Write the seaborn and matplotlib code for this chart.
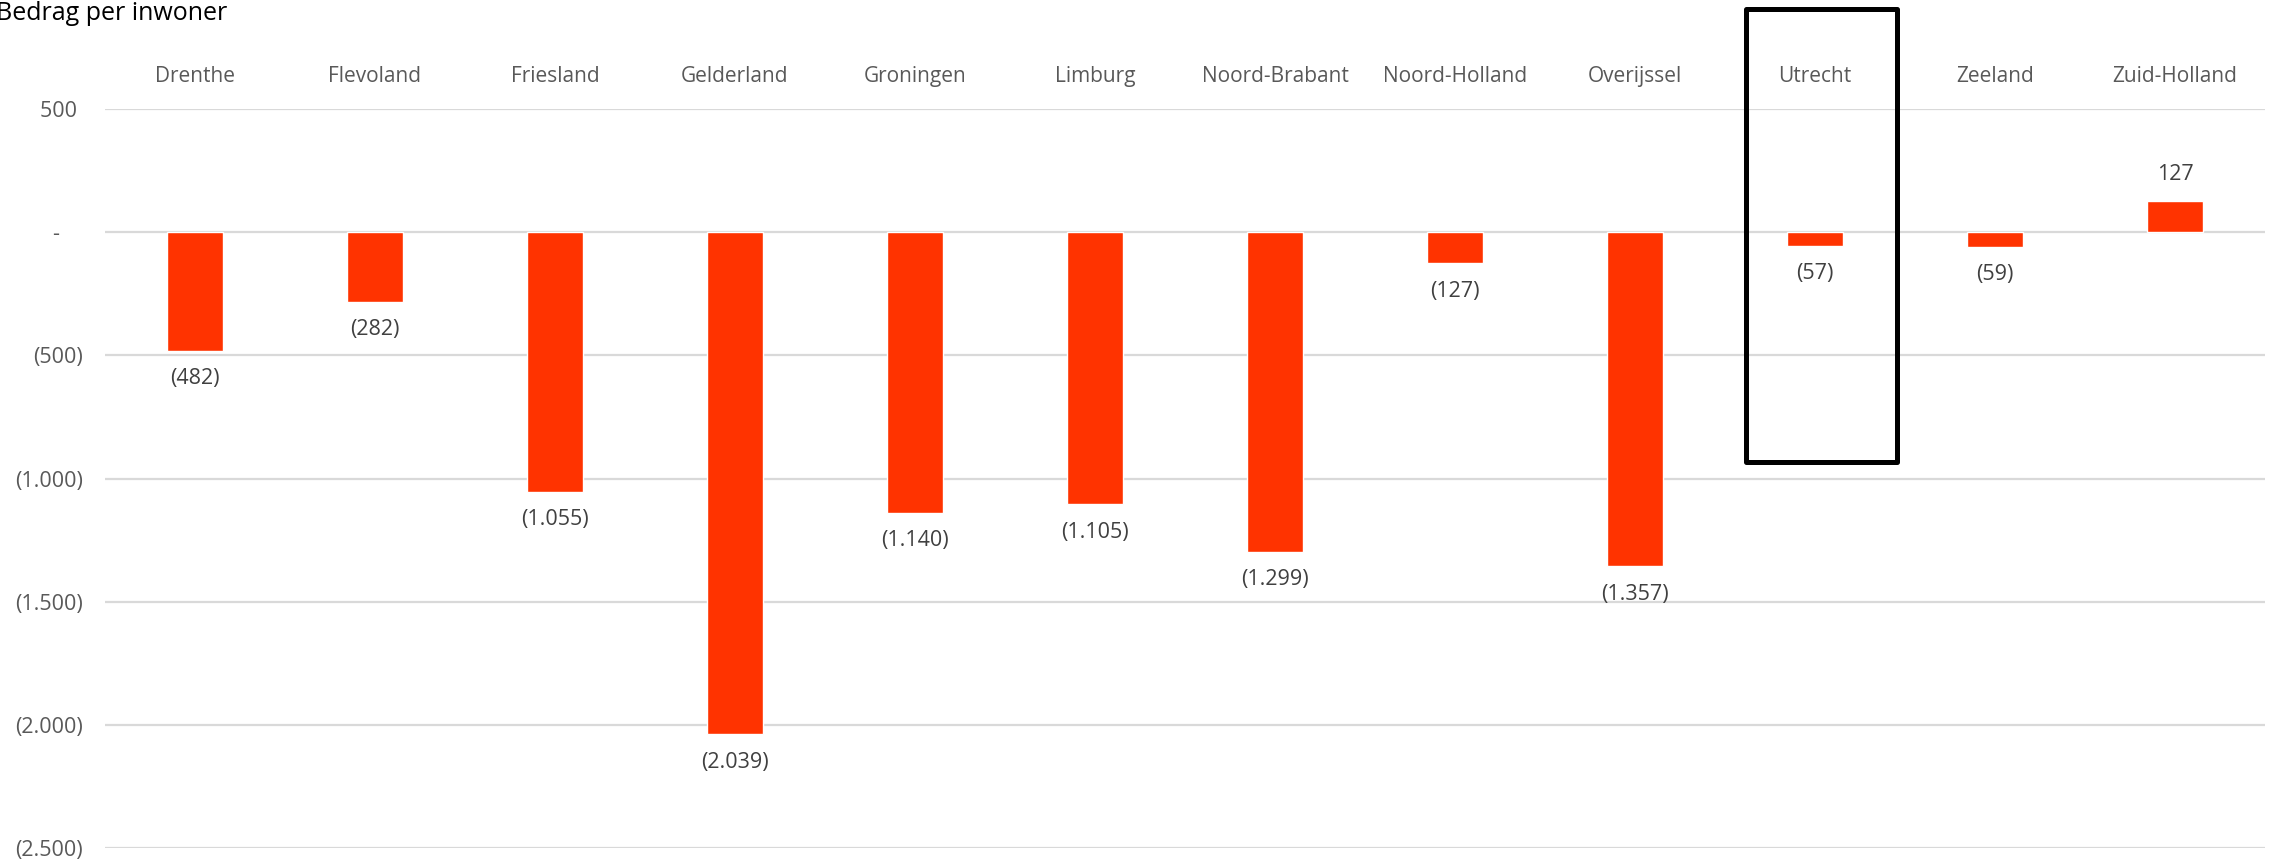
import matplotlib
matplotlib.use("Agg")
import matplotlib.pyplot as plt
from matplotlib.patches import Rectangle
import seaborn as sns

provincies = ['Drenthe', 'Flevoland', 'Friesland', 'Gelderland', 'Groningen', 'Limburg',
              'Noord-Brabant', 'Noord-Holland', 'Overijssel', 'Utrecht', 'Zeeland', 'Zuid-Holland']
bedrag = [-482, -282, -1055, -2039, -1140, -1105, -1299, -127, -1357, -57, -59, 127]
y_ticks = [500, 0, -500, -1000, -1500, -2000, -2500]

sns.set_theme(style="white")
plt.rcParams['font.family'] = ['Open Sans', 'DejaVu Sans']


def fmt(v, tick=False):
    if v == 0:
        return "-    "
    s = f"{abs(v):,}".replace(",", ".")
    if v < 0:
        return "(" + s + ")"
    return s + " " if tick else s


fig = plt.figure(figsize=(22.72, 8.61), dpi=100)
ax = fig.add_axes([105 / 2272, 1 - 848 / 861, 2160 / 2272, (848 - 109) / 861])

sns.barplot(x=provincies, y=bedrag, color='#FF3300', width=0.31, saturation=1, ax=ax)

ax.set_ylim(-2500, 500)
ax.set_xlim(-0.5, 11.5)
ax.set_yticks(y_ticks)
ax.set_yticklabels([fmt(v, tick=True) for v in y_ticks], fontsize=15.5, color='#595959')
ax.yaxis.grid(True, color='#D9D9D9', linewidth=1.6)
ax.set_axisbelow(True)
ax.tick_params(axis='y', length=0, pad=16)
ax.xaxis.tick_top()
ax.tick_params(axis='x', length=0, pad=16, labelsize=15, labelcolor='#595959')
ax.set_xlabel('')
ax.set_ylabel('')
for s in ax.spines.values():
    s.set_visible(False)

for i, v in enumerate(bedrag):
    off = -20 if v < 0 else 19
    ax.annotate(fmt(v), (i, v), xytext=(0, off), textcoords='offset points',
                ha='center', va='center', fontsize=15.5, color='#404040')

# kader rond Utrecht
ax.add_patch(Rectangle((8.617, -935), 9.456 - 8.617, 906 + 935, fill=False,
                       edgecolor='black', linewidth=3.6, clip_on=False,
                       joinstyle='round', zorder=5))

fig.text(-4 / 2272, 1 - 14 / 861, 'Bedrag per inwoner', fontsize=18, color='black',
         ha='left', va='center')

fig.savefig('out.png', dpi=100)
